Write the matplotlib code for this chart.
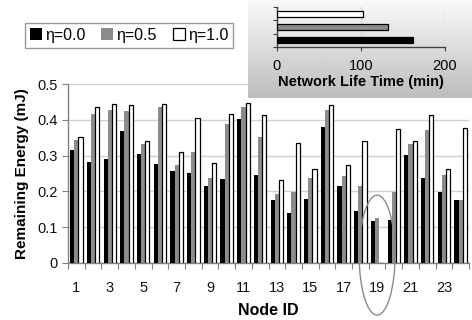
import numpy as np
import matplotlib
matplotlib.use("Agg")
import matplotlib.pyplot as plt
from matplotlib.patches import Ellipse

plt.rcParams['font.family'] = ['Liberation Sans', 'DejaVu Sans']

nodes = list(range(1, 25))
eta0 = [0.315, 0.282, 0.291, 0.369, 0.305, 0.277, 0.257, 0.252, 0.216, 0.235, 0.403, 0.246,
        0.177, 0.140, 0.179, 0.380, 0.216, 0.146, 0.118, 0.121, 0.302, 0.238, 0.199, 0.177]
eta05 = [0.344, 0.416, 0.428, 0.425, 0.333, 0.436, 0.274, 0.310, 0.238, 0.388, 0.436, 0.353,
         0.194, 0.197, 0.238, 0.428, 0.243, 0.216, 0.126, 0.199, 0.333, 0.372, 0.246, 0.177]
eta10 = [0.353, 0.435, 0.443, 0.440, 0.341, 0.443, 0.310, 0.404, 0.278, 0.415, 0.446, 0.413,
         0.231, 0.336, 0.262, 0.440, 0.275, 0.341, 0.0, 0.374, 0.341, 0.413, 0.262, 0.376]
labels = ["η=0.0", "η=0.5", "η=1.0"]
lifetime = [162, 132, 103]   # eta 0.0, 0.5, 1.0
highlight_node = 19

W, H = 472, 320
fig = plt.figure(figsize=(W/100, H/100), dpi=100)

def fx(px): return px / W
def fy(py): return 1 - py / H

# main axes
ax = fig.add_axes([fx(68), fy(263), fx(469) - fx(68), fy(84) - fy(263)])
x = np.array(nodes, dtype=float)
bw = 0.25
b0 = ax.bar(x - bw, eta0, bw, color='black', label=labels[0], zorder=3)
b1 = ax.bar(x, eta05, bw, color='#8c8c8c', label=labels[1], zorder=3)
b2 = ax.bar(x + bw, eta10, bw, color='white', edgecolor='black', linewidth=0.9, label=labels[2], zorder=3)
ax.set_xlim(0.5, 24.5)
ax.set_ylim(0, 0.5)
ax.set_yticks([0, 0.1, 0.2, 0.3, 0.4, 0.5])
ax.set_yticklabels(['0', '0.1', '0.2', '0.3', '0.4', '0.5'])
ax.set_xticks(nodes[::2])
ax.set_xticklabels([str(n) for n in nodes[::2]])
ax.set_xticks(np.arange(0.5, 25, 1), minor=True)
ax.tick_params(axis='x', which='major', length=0, pad=13, labelsize=10.5, colors='#111111')
ax.tick_params(axis='x', which='minor', length=4, width=0.8, color='#808080', direction='out')
ax.tick_params(axis='y', length=4, width=0.8, color='#808080', labelsize=10.5, labelcolor='#111111')
ax.yaxis.grid(True, color='#d0d0d0', linewidth=1, zorder=0)
ax.set_axisbelow(True)
for s in ['top', 'right']:
    ax.spines[s].set_visible(False)
for s in ['left', 'bottom']:
    ax.spines[s].set_color('#808080')
    ax.spines[s].set_linewidth(1)
ax.set_ylabel('Remaining Energy (mJ)', fontsize=11, fontweight='bold', labelpad=6)
ax.set_xlabel('Node ID', fontsize=11.5, fontweight='bold', labelpad=6)

hl = highlight_node
ell = Ellipse((hl, 0.022), 2.15, 0.335, fill=False, edgecolor='#8a8a8a', linewidth=1,
              clip_on=False, zorder=5)
ax.add_patch(ell)

leg = fig.legend(handles=[b0, b1, b2], labels=labels, loc='upper left',
                 bbox_to_anchor=(fx(25), fy(23)), ncol=3, frameon=True, fancybox=False,
                 fontsize=11.5, handlelength=0.75, handleheight=0.75, handletextpad=0.2,
                 columnspacing=1.0, borderpad=0.3, borderaxespad=0, edgecolor='#808080')
leg.get_frame().set_linewidth(1)

# inset background panel
bg = fig.add_axes([fx(248), fy(98), fx(472) - fx(248), fy(0) - fy(98)], zorder=10)
grad = np.linspace(0.98, 0.74, 100).reshape(-1, 1)
bg.imshow(grad, aspect='auto', cmap='gray', vmin=0, vmax=1, extent=[0, 1, 0, 1], origin='upper')
bg.set_axis_off()

ins = fig.add_axes([fx(276.7), fy(46.7), fx(445) - fx(276.7), fy(7.3) - fy(46.7)], zorder=11)
ins.patch.set_alpha(0)
yy = np.arange(3)
ins.barh(yy, lifetime, height=0.45, color=['black', '#8c8c8c', 'white'],
         edgecolor='black', linewidth=0.9, zorder=3)
ins.set_xlim(0, 200)
ins.set_ylim(-0.5, 2.5)
ins.set_xticks([0, 100, 200])
ins.set_yticks([-0.5, 0.5, 1.5, 2.5])
ins.set_yticklabels([])
ins.xaxis.grid(True, color='#d8d8d8', linewidth=1, zorder=0)
ins.set_axisbelow(True)
for s in ['top', 'right']:
    ins.spines[s].set_visible(False)
for s in ['left', 'bottom']:
    ins.spines[s].set_color('#404040')
    ins.spines[s].set_linewidth(1)
ins.tick_params(axis='x', length=3, color='#404040', labelsize=10.5, pad=6)
ins.tick_params(axis='y', length=3, color='#404040')
ins.set_xlabel('Network Life Time (min)', fontsize=10.5, fontweight='bold', labelpad=1)

fig.savefig('out.png', dpi=100)
